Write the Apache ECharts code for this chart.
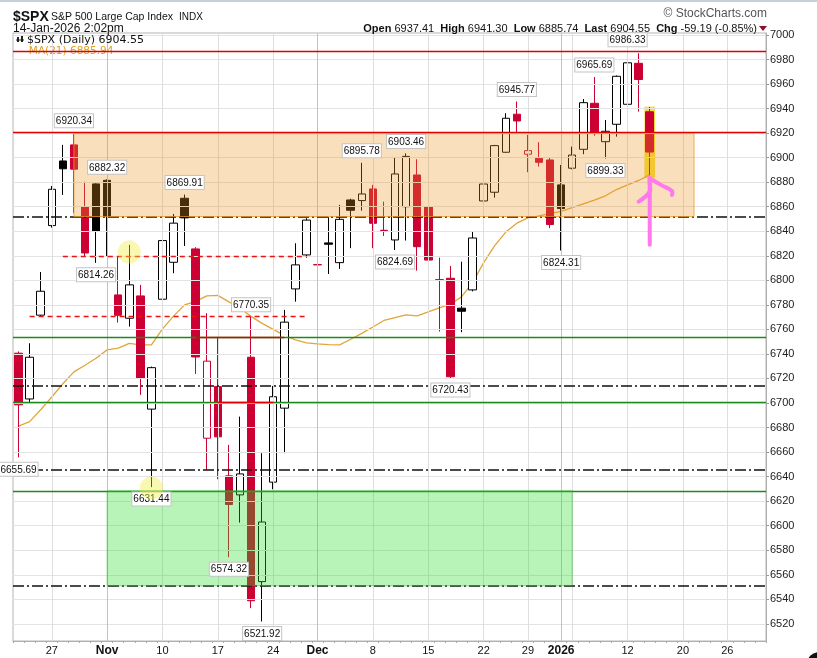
<!DOCTYPE html>
<html><head><meta charset="utf-8">
<script src="https://cdn.jsdelivr.net/npm/echarts@6/dist/echarts.min.js"></script>
<style>html,body{margin:0;padding:0;background:#fff;}#c{width:817px;height:658px;}</style>
</head><body><div id="c"></div>
<script>
// ---------- DATA ----------
const dates = ['2025-10-22','2025-10-23','2025-10-24','2025-10-27','2025-10-28','2025-10-29','2025-10-30','2025-10-31',
'2025-11-03','2025-11-04','2025-11-05','2025-11-06','2025-11-07','2025-11-10','2025-11-11','2025-11-12','2025-11-13','2025-11-14',
'2025-11-17','2025-11-18','2025-11-19','2025-11-20','2025-11-21','2025-11-24','2025-11-25','2025-11-26','2025-11-28',
'2025-12-01','2025-12-02','2025-12-03','2025-12-04','2025-12-05','2025-12-08','2025-12-09','2025-12-10','2025-12-11','2025-12-12',
'2025-12-15','2025-12-16','2025-12-17','2025-12-18','2025-12-19','2025-12-22','2025-12-23','2025-12-24','2025-12-26',
'2025-12-29','2025-12-30','2025-12-31','2026-01-02','2026-01-05','2026-01-06','2026-01-07','2026-01-08','2026-01-09',
'2026-01-12','2026-01-13','2026-01-14',
'2026-01-15','2026-01-16','2026-01-20','2026-01-21','2026-01-22','2026-01-23','2026-01-26','2026-01-27','2026-01-28','2026-01-29'];
const priorClose = 6735;
const opens = [6740.6,6703.3,6771.6,6844.6,6897.3,6910.4,6860.0,6878.6,6881.5,6788.1,
6769.1,6787.3,6695.0,6784.6,6814.7,6866.9,6825.6,6671.3,6713.4,6640.6,
6625.1,6737.3,6554.4,6635.5,6695.8,6793.0,6820.7,6812.8,6830.5,6814.4,
6865.5,6865.0,6874.5,6840.8,6832.9,6860.0,6885.9,6860.0,6800.5,6801.7,
6777.3,6792.2,6864.7,6871.8,6904.4,6935.4,6902.8,6899.5,6898.1,6877.8,
6891.4,6906.8,6944.3,6913.0,6927.2,6943.5,6976.9,6937.41];
const highs = [6742.0,6748.7,6806.8,6876.9,6910.4,6920.34,6880.4,6879.0,6882.32,6819.0,
6828.9,6796.3,6729.7,6841.1,6854.1,6869.91,6827.0,6773.2,6753.6,6665.9,
6688.9,6770.35,6659.1,6713.9,6775.9,6830.2,6850.6,6842.5,6851.4,6861.5,
6866.5,6895.78,6877.8,6864.1,6900.3,6903.46,6898.7,6860.5,6818.5,6811.7,
6815.2,6839.7,6881.0,6910.4,6936.2,6945.77,6918.5,6912.6,6900.0,6894.0,
6909.0,6947.8,6965.69,6930.7,6967.0,6986.33,6985.1,6941.30];
const lows = [6655.69,6699.3,6770.9,6843.0,6869.6,6855.0,6819.3,6814.26,6819.3,6765.5,
6762.3,6706.6,6631.44,6770.4,6805.8,6828.0,6723.7,6645.5,6637.9,6574.32,
6602.5,6532.8,6521.92,6629.7,6659.1,6782.6,6818.5,6799.0,6805.2,6809.3,
6826.2,6856.8,6826.2,6836.2,6824.69,6832.4,6807.9,6800.9,6758.2,6720.43,
6757.7,6791.0,6854.7,6867.4,6904.0,6920.7,6888.1,6892.7,6842.5,6824.31,
6890.5,6902.8,6917.9,6899.33,6917.1,6932.6,6937.5,6885.74];
const closes = [6698.5,6737.3,6791.1,6874.2,6890.9,6890.6,6822.3,6840.2,6852.0,6771.5,
6796.3,6720.3,6728.8,6832.4,6846.6,6850.9,6737.5,6734.1,6672.4,6617.3,
6642.2,6538.8,6603.0,6705.1,6765.9,6812.6,6849.1,6812.6,6829.4,6849.7,
6857.1,6870.4,6846.5,6840.5,6886.7,6901.0,6827.4,6816.5,6800.3,6721.4,
6774.8,6834.5,6878.5,6909.8,6932.1,6929.9,6905.7,6896.2,6845.5,6858.5,
6902.1,6944.8,6920.9,6921.5,6966.3,6977.3,6963.7,6904.55];
const ma21 = [6681.2,6684.8,6694.5,6704.9,6715.7,6725.4,6730.8,6736.5,6743.3,6744.7,
6748.6,6747.4,6747.4,6760.4,6770.8,6780.0,6782.8,6787.3,6787.7,6782.4,
6777.3,6770.6,6764.9,6760.0,6755.1,6751.4,6749.0,6748.2,6747.6,6747.4,
6752.0,6756.8,6762.0,6767.3,6769.6,6771.8,6771.0,6774.2,6777.5,6780.5,
6786.5,6797.9,6814.4,6828.3,6839.3,6846.6,6850.9,6852.6,6854.4,6856.2,
6859.3,6862.4,6865.4,6868.9,6874.0,6877.8,6881.4,6885.94];
const yTicks = [6520,6540,6560,6580,6600,6620,6640,6660,6680,6700,6720,6740,6760,6780,6800,6820,6840,6860,6880,6900,6920,6940,6960,6980,7000];
const xLabels = {'2025-10-27':'27','2025-11-03':'Nov','2025-11-10':'10','2025-11-17':'17','2025-11-24':'24','2025-12-01':'Dec',
'2025-12-08':'8','2025-12-15':'15','2025-12-22':'22','2025-12-29':'29','2026-01-02':'2026','2026-01-12':'12','2026-01-20':'20','2026-01-26':'26'};
const boldLabels = ['Nov','Dec','2026'];
const xGridDates = ['2025-10-27','2025-11-03','2025-11-10','2025-11-17','2025-11-24','2025-12-01','2025-12-08','2025-12-15','2025-12-22','2025-12-29','2026-01-02','2026-01-05','2026-01-12','2026-01-20','2026-01-26'];
const xMajorDates = ['2025-11-03','2025-12-01','2026-01-02'];
const highLabels = [['2025-10-29',6920.34],['2025-11-03',6882.32],['2025-11-12',6869.91],['2025-11-20',6770.35],['2025-12-05',6895.78],['2025-12-11',6903.46],['2025-12-26',6945.77],['2026-01-07',6965.69],['2026-01-12',6986.33]];
const lowLabels = [['2025-10-22',6655.69],['2025-10-31',6814.26],['2025-11-07',6631.44],['2025-11-18',6574.32],['2025-11-21',6521.92],['2025-12-10',6824.69],['2025-12-17',6720.43],['2026-01-02',6824.31],['2026-01-08',6899.33]];
const redLevels = [6986.33, 6920.34];
const greenLevels = [6753.6, 6700.8, 6628.4];
const redSegments = [['2025-11-13','2025-11-25',6753.6],['2025-11-17','2025-11-24',6700.8]];
const dashDotLevels = [6852, 6713.8, 6645.4, 6551];
const redDashed = [['2025-10-28','2025-11-28',6819.3],['2025-10-23','2025-11-28',6771.0]];
const zones = [['2025-10-29','2026-01-21',6852,6919.6],['2025-11-03','2026-01-05',6551,6628.4]];
const circles = [['2025-11-05',6823.0],['2025-11-07',6630.8]];
const highlight = ['2026-01-14',6883.7,6941.6];
const arrowStem = [[56.72,6828.9],[56.66,6837.0],[57.02,6847.8],[57.27,6858.8],[57.18,6869.6],[57.02,6876.4],[57.27,6883.2]];
const arrowLeft = [[56.42,6864.1],[56.57,6872.3],[56.87,6879.1],[57.18,6883.2]];
const arrowRight = [[57.27,6883.2],[58.08,6877.8],[58.83,6872.9],[59.43,6869.6]];
const lastPrice = 6904.55, lastMA = 6885.94;

// ---------- BUILD ----------
const RED = '#cc0033', BLK = '#000000';
const idx = d => dates.indexOf(d);
const candleData = closes.map((c, i) => {
  const o = opens[i], prev = i ? closes[i - 1] : priorClose;
  const col = c < prev ? RED : BLK;
  const fill = c <= o ? col : '#ffffff';
  return { value: [o, c, lows[i], highs[i]],
    itemStyle: { color: fill, color0: fill, borderColor: col, borderColor0: col } };
});
const labelFont = "'Liberation Sans',Arial,sans-serif";
const calloutLabel = { show: true, fontSize: 10, fontFamily: labelFont, color: '#111', backgroundColor: '#fff',
  borderColor: '#c4c4c4', borderWidth: 1, padding: [2, 1, 1, 1], distance: 5 };
const markPts = highLabels.map(h => ({ coord: [h[0], h[1]], value: h[1], label: Object.assign({}, calloutLabel, { position: 'top' }) }))
  .concat(lowLabels.map(h => ({ coord: [h[0], h[1]], value: h[1], label: Object.assign({}, calloutLabel, { position: 'bottom' }) })));

const gridLines = yTicks.map(v => ({ yAxis: v, lineStyle: { color: '#e3e3e3', width: 1, type: 'solid' } }))
  .concat(xGridDates.map(d => ({ xAxis: d, lineStyle: { color: xMajorDates.includes(d) ? '#c2c2c2' : '#dedede', width: 1, type: 'solid' } })));

const levelLines = []
  .concat(greenLevels.map(v => ({ yAxis: v, lineStyle: { color: '#1b8a1b', width: 1.3, type: 'solid' } })))
  .concat(redSegments.map(s => [{ coord: [s[0], s[2]], lineStyle: { color: '#e00000', width: 1.3, type: 'solid' } }, { coord: [s[1], s[2]] }]))
  .concat(redLevels.map(v => ({ yAxis: v, lineStyle: { color: '#e00000', width: 1.3, type: 'solid' } })))
  .concat(dashDotLevels.map(v => ({ yAxis: v, lineStyle: { color: '#111', width: 1.5, type: [11, 3, 2, 3] } })))
  .concat(redDashed.map(s => [{ coord: [s[0], s[2]], lineStyle: { color: '#ee1111', width: 1.3, type: [5, 4] } }, { coord: [s[1], s[2]] }]));

const zoneStyles = [
  { fill: 'rgba(236,150,30,0.30)', stroke: 'rgba(238,150,40,0.75)' },
  { fill: 'rgba(40,222,40,0.33)', stroke: 'rgba(40,180,40,0.5)' }];

const chart = echarts.init(document.getElementById('c'), null, { renderer: 'canvas' });
const option = {
  animation: false,
  textStyle: { fontFamily: "'Liberation Sans',Arial,sans-serif" },
  grid: { left: 13, top: 33, width: 753, height: 608, show: true, borderColor: '#b4b4b4', borderWidth: 1, backgroundColor: '#fff' },
  xAxis: {
    type: 'category', data: dates, boundaryGap: true,
    axisLine: { lineStyle: { color: '#b0b0b0' } },
    axisTick: { show: true, interval: 0, length: 2, lineStyle: { color: '#aaa' } },
    axisLabel: {
      interval: (i, v) => !!xLabels[v], margin: 4, fontSize: 11, color: '#111',
      formatter: v => boldLabels.includes(xLabels[v]) ? '{b|' + xLabels[v] + '}' : (xLabels[v] || ''),
      rich: { b: { fontWeight: 'bold', fontSize: 12, color: '#111' } }
    },
    splitLine: { show: false }
  },
  yAxis: {
    type: 'value', position: 'right', min: 6506, max: 7001.6,
    axisLine: { show: true, lineStyle: { color: '#b0b0b0' } },
    axisTick: { show: true, customValues: yTicks, length: 3, lineStyle: { color: '#999' } },
    minorTick: { show: false },
    axisLabel: { customValues: yTicks, fontSize: 11, color: '#222', margin: 4, formatter: v => String(Math.round(v)) },
    splitLine: { show: false }
  },
  series: [
    { name: 'grid', type: 'line', data: [], z: 0, silent: true,
      markLine: { silent: true, symbol: ['none', 'none'], label: { show: false }, animation: false, data: gridLines } },
    { name: 'hl', type: 'custom', z: 1, silent: true, data: [[idx(highlight[0]), highlight[1], highlight[2]]],
      encode: { x: 0, y: [1, 2] },
      renderItem: (p, api) => {
        const a = api.coord([api.value(0), api.value(2)]);
        const b = api.coord([api.value(0), api.value(1)]);
        const hw = api.size([1, 0])[0] * 0.48;
        return { type: 'rect', shape: { x: a[0] - hw, y: a[1], width: hw * 2, height: b[1] - a[1] }, style: { fill: '#f7dc3c' } };
      } },
    { name: 'MA(21)', type: 'line', data: ma21, z: 1, symbol: 'none', silent: true,
      lineStyle: { color: '#e2a53a', width: 1.3 } },
    { name: '$SPX', type: 'candlestick', data: candleData, z: 2, barWidth: 8, silent: true,
      markPoint: { symbol: 'rect', symbolSize: 1, itemStyle: { color: 'rgba(0,0,0,0)' }, silent: true, animation: false,
        label: { formatter: p => Number(p.value).toFixed(2) }, data: markPts } },
    { name: 'zones', type: 'custom', z: 5, silent: true, data: zones.map(z => [idx(z[0]), idx(z[1]), z[2], z[3]]),
      encode: { x: [0, 1], y: [2, 3] },
      renderItem: (p, api) => {
        const a = api.coord([api.value(0), api.value(3)]);
        const b = api.coord([api.value(1), api.value(2)]);
        const s = zoneStyles[p.dataIndex];
        return { type: 'rect', shape: { x: a[0], y: a[1], width: b[0] - a[0], height: b[1] - a[1] }, style: { fill: s.fill, stroke: s.stroke, lineWidth: 1 } };
      } },
    { name: 'levels', type: 'line', data: [], z: 6, silent: true,
      markLine: { silent: true, symbol: ['none', 'none'], label: { show: false }, animation: false, data: levelLines } },
    { name: 'circles', type: 'scatter', z: 7, silent: true, symbolSize: 23, data: circles,
      itemStyle: { color: 'rgba(240,238,60,0.5)' } },
    { name: 'arrow', type: 'custom', z: 8, silent: true, data: [[0, 0]],
      renderItem: (p, api) => {
        const pts = arr => arr.map(q => api.coord([q[0], q[1]]));
        const st = { stroke: '#ff78ee', lineWidth: 4, lineCap: 'round', lineJoin: 'round', fill: 'none' };
        return { type: 'group', children: [
          { type: 'polyline', shape: { points: pts(arrowStem), smooth: 0.4 }, style: st },
          { type: 'polyline', shape: { points: pts(arrowLeft), smooth: 0.4 }, style: st },
          { type: 'polyline', shape: { points: pts(arrowRight), smooth: 0.4 }, style: st }] };
      } },
    { name: 'tags', type: 'line', data: [], z: 9, silent: true,
      markLine: { silent: true, symbol: ['none', 'none'], animation: false,
        lineStyle: { opacity: 0 },
        data: [
          { yAxis: lastMA, label: { show: true, position: 'end', distance: 4, formatter: lastMA.toFixed(2), fontSize: 11, color: '#222',
              backgroundColor: '#fff', borderColor: '#e0a000', borderWidth: 1, padding: [1, 2, 0, 2] } },
          { yAxis: lastPrice, label: { show: true, position: 'end', distance: 4, formatter: lastPrice.toFixed(2), fontSize: 11, fontWeight: 'bold', color: '#000',
              backgroundColor: '#fff', borderColor: '#000', borderWidth: 1, padding: [1, 2, 0, 2] } }
        ] } }
  ],
  graphic: [
    { type: 'rect', shape: { x: 0, y: 0, width: 817, height: 2 }, style: { fill: '#c6d0d8' }, z: 100 },
    { type: 'text', x: 13, y: 17, z: 100, style: { text: '$SPX', font: "bold 14px 'Liberation Sans',Arial", fill: '#111', verticalAlign: 'middle' } },
    { type: 'text', x: 51, y: 17, z: 100, style: { text: 'S&P 500 Large Cap Index', font: "10.5px 'Liberation Sans',Arial", fill: '#111', verticalAlign: 'middle' } },
    { type: 'text', x: 179, y: 17, z: 100, style: { text: 'INDX', font: "10px 'Liberation Sans',Arial", fill: '#111', verticalAlign: 'middle' } },
    { type: 'text', x: 13, y: 29, z: 100, style: { text: '14-Jan-2026 2:02pm', font: "12px 'Liberation Sans',Arial", fill: '#111', verticalAlign: 'middle' } },
    { type: 'text', x: 767, y: 14, z: 100, style: { text: '\u00A9 StockCharts.com', font: "12px 'Liberation Sans',Arial", fill: '#555', align: 'right', verticalAlign: 'middle' } },
    { type: 'text', x: 757, y: 29, z: 100, style: {
        text: '{b|Open} 6937.41  {b|High} 6941.30  {b|Low} 6885.74  {b|Last} 6904.55  {b|Chg} -59.19 (-0.85%)',
        font: "11px 'Liberation Sans',Arial", fill: '#111', align: 'right', verticalAlign: 'middle',
        rich: { b: { font: "bold 11px 'Liberation Sans',Arial", fill: '#111' } } } },
    { type: 'polygon', z: 100, shape: { points: [[759, 26], [767, 26], [763, 31]] }, style: { fill: '#8a1030' } },
    { type: 'rect', z: 100, shape: { x: 17, y: 37, width: 2, height: 5 }, style: { fill: '#222' } },
    { type: 'rect', z: 100, shape: { x: 21, y: 36, width: 2, height: 6 }, style: { fill: '#222' } },
    { type: 'line', z: 100, shape: { x1: 16, y1: 40, x2: 24, y2: 40 }, style: { stroke: '#222', lineWidth: 1 } },
    { type: 'text', x: 27, y: 40, z: 100, style: { text: '$SPX (Daily) 6904.55', font: "11px 'DejaVu Sans',sans-serif", fill: '#111', verticalAlign: 'middle' } },
    { type: 'text', x: 15, y: 51, z: 3, style: { text: '\u2014 MA(21) 6885.94', font: "10.5px 'DejaVu Sans',sans-serif", fill: '#e0a020', verticalAlign: 'middle' } },
    { type: 'circle', z: 100, shape: { cx: 819, cy: 664, r: 12 }, style: { fill: '#111' } }
  ]
};
chart.setOption(option);
</script>
</body></html>
